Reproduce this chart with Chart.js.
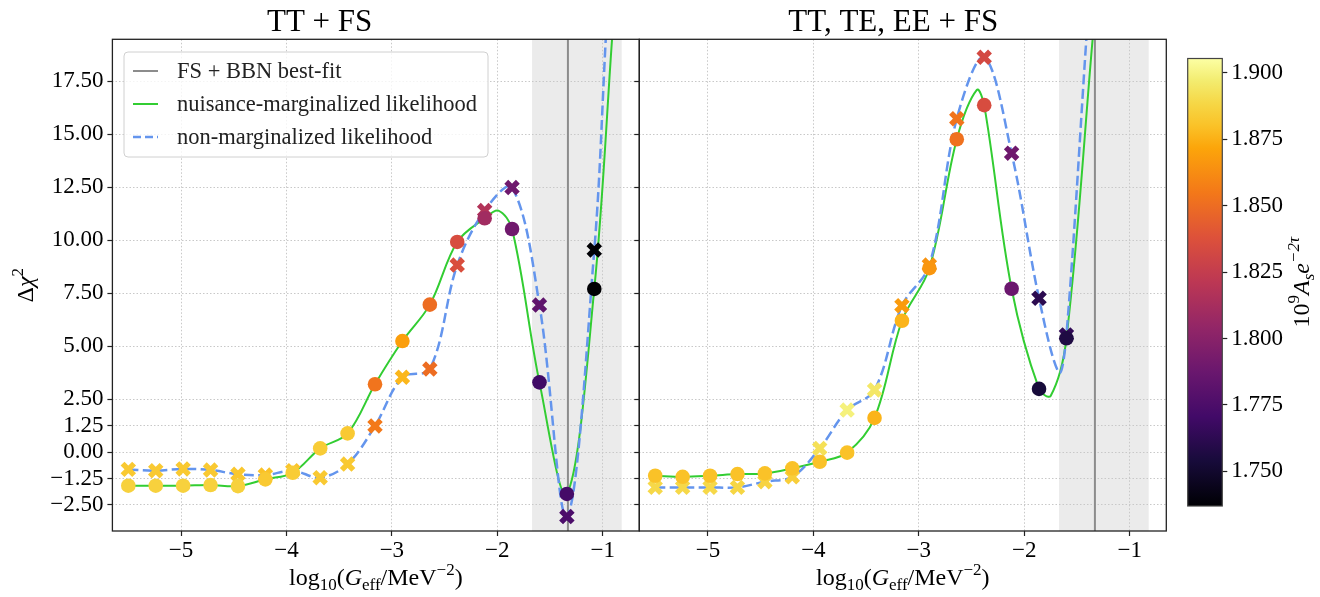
<!DOCTYPE html>
<html>
<head>
<meta charset="utf-8">
<script src="https://cdn.jsdelivr.net/npm/chart.js@4.4.1/dist/chart.umd.min.js"></script>
<style>
  body { margin: 0; background: #fff; }
  #fig { position: relative; width: 1320px; height: 597px; overflow: hidden; }
  #fig canvas { position: absolute; top: 0; }
</style>
</head>
<body>
<div id="fig">
  <canvas id="left" width="660" height="597" style="left:0"></canvas>
  <canvas id="right" width="560" height="597" style="left:620px"></canvas>
  <canvas id="cbar" width="150" height="597" style="left:1170px"></canvas>
</div>
<script>
// log10(G_eff / MeV^-2) sampling, shared by both panels
const logG = [-5.50, -5.24, -4.98, -4.72, -4.46, -4.20, -3.94, -3.68, -3.42,
              -3.16, -2.90, -2.64, -2.38, -2.12, -1.86, -1.60, -1.34, -1.08];

// TT + FS
const ttMargChi2 = [-1.59, -1.59, -1.59, -1.56, -1.61, -1.29, -0.98, 0.17, 0.88,
                    3.20, 5.24, 6.96, 9.92, 11.04, 10.53, 3.29, -1.98, 7.70];
const ttMargAs   = [1.886, 1.886, 1.886, 1.886, 1.886, 1.883, 1.884, 1.884, 1.883,
                    1.853, 1.869, 1.850, 1.835, 1.810, 1.790, 1.770, 1.772, 1.737];
const ttNonChi2  = [-0.82, -0.88, -0.80, -0.85, -1.05, -1.09, -0.88, -1.21, -0.57,
                    1.23, 3.53, 3.92, 8.83, 11.40, 12.49, 6.94, -3.05, 9.54];
const ttNonAs    = [1.883, 1.883, 1.883, 1.883, 1.882, 1.880, 1.881, 1.883, 1.883,
                    1.855, 1.877, 1.850, 1.836, 1.817, 1.789, 1.783, 1.775, 1.737];

// TT,TE,EE + FS (first 16 grid points)
const allMargChi2 = [-1.12, -1.17, -1.12, -1.04, -1.01, -0.77, -0.46, -0.03,
                     1.61, 6.20, 8.68, 14.77, 16.38, 7.71, 2.98, 5.37];
const allMargAs   = [1.880, 1.880, 1.880, 1.880, 1.880, 1.880, 1.880, 1.880,
                     1.876, 1.876, 1.866, 1.852, 1.835, 1.788, 1.754, 1.757];
const allNonChi2  = [-1.67, -1.67, -1.67, -1.67, -1.40, -1.17, 0.17, 1.98,
                     2.93, 6.91, 8.83, 15.74, 18.64, 14.11, 7.26, 5.53];
const allNonAs    = [1.889, 1.889, 1.889, 1.888, 1.887, 1.885, 1.892, 1.899,
                     1.895, 1.868, 1.865, 1.853, 1.833, 1.789, 1.762, 1.764];

// extra points (peaks, dips, exit at the top)
const ttMargCurveExtra  = [[-1.99, 11.40], [-0.91, 19.6]];
const ttNonCurveExtra   = [[-0.97, 19.6]];
const allMargCurveExtra = [[-2.45, 17.10], [-1.75, 2.65], [-1.35, 19.6]];
const allNonCurveExtra  = [[-1.67, 3.75], [-1.41, 19.6]];

const bestFit = -1.33;
const bandLo = -1.67, bandHi = -0.82;
const xMin = -5.651, xMax = -0.653;
const yMin = -3.73, yMax = 19.49;
const xTicks = [-5, -4, -3, -2, -1];
const yTicks = [-2.5, -1.25, 0, 1.25, 2.5, 5, 7.5, 10, 12.5, 15, 17.5];
const cbMin = 1.737, cbMax = 1.9053;
const cbTicks = [1.750, 1.775, 1.800, 1.825, 1.850, 1.875, 1.900];

const SERIF = '"Liberation Serif", "DejaVu Serif", serif';
const GREEN = '#32cd32';
const BLUE = '#6495ed';

// inferno colormap
const inferno = [
  [0.0, '#000004'], [0.1, '#170b3a'], [0.2, '#420a68'], [0.3, '#6a176e'],
  [0.4, '#932667'], [0.5, '#bc3754'], [0.6, '#dd513a'], [0.7, '#f37819'],
  [0.8, '#fca50a'], [0.85, '#fac228'], [0.9, '#f6d746'], [0.95, '#f3ec6f'], [1.0, '#fcffa4']
];
function hex(h) { return [1, 3, 5].map(i => parseInt(h.substr(i, 2), 16)); }
function infernoAt(t) {
  t = Math.max(0, Math.min(1, t));
  for (let i = 1; i < inferno.length; i++) {
    if (t <= inferno[i][0]) {
      const [t0, c0] = inferno[i - 1], [t1, c1] = inferno[i];
      const f = (t - t0) / (t1 - t0), a = hex(c0), b = hex(c1);
      return 'rgb(' + a.map((v, k) => Math.round(v + (b[k] - v) * f)).join(',') + ')';
    }
  }
  return inferno[inferno.length - 1][1];
}
const asColor = v => infernoAt((v - cbMin) / (cbMax - cbMin));

function pts(xs, ys) { return ys.map((y, i) => ({ x: xs[i], y: y })); }
function curve(xs, ys, extra) {
  return pts(xs, ys).concat(extra.map(p => ({ x: p[0], y: p[1] }))).sort((a, b) => a.x - b.x);
}
const minus = s => s.replace('-', '\u2212');

// mixed-size text (sub/superscripts), cx centre, cy baseline
function drawRich(ctx, parts, cx, cy, angle) {
  ctx.save();
  ctx.translate(cx, cy);
  ctx.rotate(angle || 0);
  ctx.fillStyle = '#000';
  ctx.textBaseline = 'alphabetic';
  const fonts = parts.map(p => (p.i ? 'italic ' : '') + (p.s || 24) + 'px ' + SERIF);
  let w = 0;
  parts.forEach((p, k) => { ctx.font = fonts[k]; w += ctx.measureText(p.t).width; });
  let x = -w / 2;
  parts.forEach((p, k) => {
    ctx.font = fonts[k];
    ctx.fillText(p.t, x, p.dy || 0);
    x += ctx.measureText(p.t).width;
  });
  ctx.restore();
}

const xLabel = [
  { t: 'log' }, { t: '10', s: 17, dy: 5 }, { t: '(' }, { t: 'G', i: 1 },
  { t: 'eff', s: 17, dy: 5 }, { t: '/MeV' }, { t: '\u22122', s: 17, dy: -10 }, { t: ')' }
];
const yLabel = [{ t: '\u0394' }, { t: '\u03c7', i: 1 }, { t: '2', s: 17, dy: -10 }];
const cbLabel = [
  { t: '10' }, { t: '9', s: 17, dy: -10 }, { t: 'A', i: 1 }, { t: 's', s: 17, dy: 5, i: 1 },
  { t: 'e', i: 1 }, { t: '\u22122\u03c4', s: 17, dy: -10, i: 1 }
];

function panelDecor(withLegend, withYLabel) {
  return {
    id: 'decor',
    beforeDraw(chart) {
      const { ctx, chartArea: a, scales: { x } } = chart;
      const x0 = x.getPixelForValue(bandLo), x1 = x.getPixelForValue(bandHi);
      ctx.save();
      ctx.fillStyle = '#ebebeb';
      ctx.fillRect(x0, a.top, x1 - x0, a.bottom - a.top);
      ctx.restore();
    },
    beforeDatasetsDraw(chart) {
      const { ctx, chartArea: a, scales: { x } } = chart;
      const px = x.getPixelForValue(bestFit);
      ctx.save();
      ctx.strokeStyle = '#8c8c8c';
      ctx.lineWidth = 2;
      ctx.beginPath();
      ctx.moveTo(px, a.top);
      ctx.lineTo(px, a.bottom);
      ctx.stroke();
      ctx.restore();
    },
    afterDraw(chart) {
      const { ctx, chartArea: a } = chart;
      ctx.save();
      ctx.strokeStyle = '#222';
      ctx.lineWidth = 1.3;
      ctx.strokeRect(a.left, a.top, a.right - a.left, a.bottom - a.top);
      ctx.restore();

      drawRich(ctx, xLabel, (a.left + a.right) / 2, 585);
      if (withYLabel) drawRich(ctx, yLabel, 33, (a.top + a.bottom) / 2, -Math.PI / 2);

      if (withLegend) {
        const bx = 124, by = 52, bw = 364, bh = 105;
        ctx.save();
        ctx.beginPath();
        ctx.roundRect(bx, by, bw, bh, 4);
        ctx.fillStyle = 'rgba(255,255,255,0.8)';
        ctx.fill();
        ctx.strokeStyle = '#d0d0d0';
        ctx.lineWidth = 1;
        ctx.stroke();
        const rows = [
          { label: 'FS + BBN best-fit', color: '#8c8c8c', w: 2, dash: [] },
          { label: 'nuisance-marginalized likelihood', color: GREEN, w: 2, dash: [] },
          { label: 'non-marginalized likelihood', color: BLUE, w: 2.5, dash: [8, 4] }
        ];
        ctx.font = '22.5px ' + SERIF;
        ctx.fillStyle = '#222';
        ctx.textBaseline = 'middle';
        rows.forEach((r, k) => {
          const cy = 71 + k * 33;
          ctx.strokeStyle = r.color;
          ctx.lineWidth = r.w;
          ctx.setLineDash(r.dash);
          ctx.beginPath();
          ctx.moveTo(133, cy);
          ctx.lineTo(158, cy);
          ctx.stroke();
          ctx.fillText(r.label, 177, cy + 1);
        });
        ctx.restore();
      }
    }
  };
}

function makePanel(id, o) {
  const grid = {
    color: '#c8c8c8', lineWidth: 1, tickLength: 5, tickColor: '#222', tickWidth: 1.2
  };
  return new Chart(document.getElementById(id), {
    type: 'scatter',
    data: {
      datasets: [
        {
          label: 'marginalized points', data: pts(o.xs, o.margChi2),
          pointStyle: 'circle', pointRadius: 7.3, pointBorderWidth: 0,
          pointBackgroundColor: o.margAs.map(asColor), order: 0
        },
        {
          label: 'non-marginalized points', data: pts(o.xs, o.nonChi2),
          pointStyle: 'crossRot', pointRadius: 8.2, pointBorderWidth: 5.5,
          pointBorderColor: o.nonAs.map(asColor), order: 1
        },
        {
          type: 'line', label: 'non-marginalized likelihood', data: o.nonCurve,
          borderColor: BLUE, borderWidth: 2.5, borderDash: [10, 4.5],
          pointRadius: 0, tension: 0.35, fill: false, order: 2
        },
        {
          type: 'line', label: 'nuisance-marginalized likelihood', data: o.margCurve,
          borderColor: GREEN, borderWidth: 2, pointRadius: 0, tension: 0.35, fill: false, order: 3
        }
      ]
    },
    options: {
      responsive: false, animation: false, devicePixelRatio: 1,
      layout: { padding: { left: 0, right: o.padRight, top: 0, bottom: 0 } },
      elements: { line: { capBezierPoints: false } },
      plugins: {
        legend: { display: false }, tooltip: { enabled: false },
        title: {
          display: true, text: o.title, color: '#000',
          font: { family: SERIF, size: 31, weight: 'normal', lineHeight: 1 },
          padding: { top: 7, bottom: 1.3 }
        }
      },
      scales: {
        x: {
          type: 'linear', min: xMin, max: xMax,
          afterBuildTicks: s => { s.ticks = xTicks.map(v => ({ value: v })); },
          afterFit: s => { s.height = 66; },
          ticks: {
            color: '#000', padding: 1, maxRotation: 0,
            font: { family: SERIF, size: 23 },
            callback: v => minus(String(v))
          },
          grid: grid,
          border: { display: false, dash: [1.5, 2] }
        },
        y: {
          type: 'linear', min: yMin, max: yMax,
          afterBuildTicks: s => { s.ticks = yTicks.map(v => ({ value: v })); },
          afterFit: s => { s.width = o.yWidth; },
          ticks: {
            display: o.yLabels, color: '#000', padding: 4,
            font: { family: SERIF, size: 23 },
            callback: v => minus(v.toFixed(2))
          },
          grid: grid,
          border: { display: false, dash: [1.5, 2] }
        }
      }
    },
    plugins: [panelDecor(o.legend, o.yLabels)]
  });
}

makePanel('left', {
  title: 'TT + FS', xs: logG,
  margChi2: ttMargChi2, margAs: ttMargAs, nonChi2: ttNonChi2, nonAs: ttNonAs,
  margCurve: curve(logG, ttMargChi2, ttMargCurveExtra),
  nonCurve: curve(logG, ttNonChi2, ttNonCurveExtra),
  padRight: 20.7, yWidth: 112.4, yLabels: true, legend: true
});

const g16 = logG.slice(0, 16);
makePanel('right', {
  title: 'TT, TE, EE + FS', xs: g16,
  margChi2: allMargChi2, margAs: allMargAs, nonChi2: allNonChi2, nonAs: allNonAs,
  margCurve: curve(g16, allMargChi2, allMargCurveExtra),
  nonCurve: curve(g16, allNonChi2, allNonCurveExtra),
  padRight: 13.5, yWidth: 19.3, yLabels: false, legend: false
});

// colour bar
new Chart(document.getElementById('cbar'), {
  type: 'bar',
  data: {
    labels: [''],
    datasets: [{
      data: [[cbMin, cbMax]], borderWidth: 0, barPercentage: 1, categoryPercentage: 1,
      backgroundColor: c => {
        const a = c.chart.chartArea;
        if (!a) return '#000';
        const g = c.chart.ctx.createLinearGradient(0, a.bottom, 0, a.top);
        inferno.forEach(s => g.addColorStop(s[0], s[1]));
        return g;
      }
    }]
  },
  options: {
    responsive: false, animation: false, devicePixelRatio: 1,
    layout: { padding: { left: 17.7, right: 0, top: 58.5, bottom: 91 } },
    plugins: { legend: { display: false }, tooltip: { enabled: false } },
    scales: {
      x: { display: false },
      y: {
        position: 'right', min: cbMin, max: cbMax,
        afterBuildTicks: s => { s.ticks = cbTicks.map(v => ({ value: v })); },
        afterFit: s => { s.width = 97.7; },
        ticks: { color: '#000', padding: 4, font: { family: SERIF, size: 23 }, callback: v => v.toFixed(3) },
        grid: { drawOnChartArea: false, tickLength: 5, tickColor: '#222', tickWidth: 1.2 },
        border: { display: false }
      }
    }
  },
  plugins: [{
    id: 'cbarDecor',
    afterDraw(chart) {
      const { ctx, chartArea: a } = chart;
      ctx.save();
      ctx.strokeStyle = '#444';
      ctx.lineWidth = 1.2;
      ctx.strokeRect(a.left, a.top, a.right - a.left, a.bottom - a.top);
      ctx.restore();
      drawRich(ctx, cbLabel, 139, (a.top + a.bottom) / 2, -Math.PI / 2);
    }
  }]
});
</script>
</body>
</html>
